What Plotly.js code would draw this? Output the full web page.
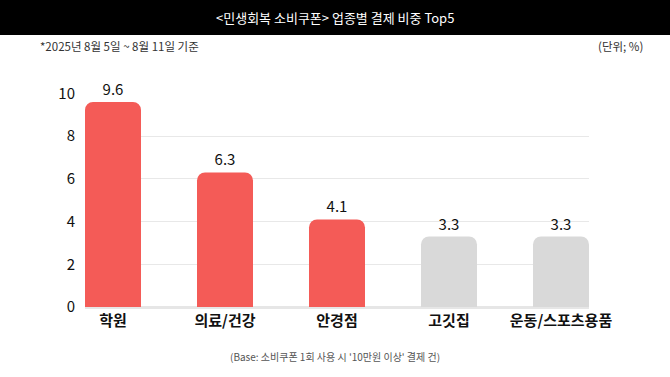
<!DOCTYPE html>
<html><head><meta charset="utf-8">
<script src="https://cdn.plot.ly/plotly-3.0.1.min.js"></script>
<style>html,body{margin:0;padding:0;background:#fff}#chart{width:670px;height:377px}</style>
</head><body><div id="chart"></div>
<script>
const categories = ["학원", "의료/건강", "안경점", "고깃집", "운동/스포츠용품"];
const shares = [9.6, 6.3, 4.1, 3.3, 3.3];
const barColors = ["#F45B57", "#F45B57", "#F45B57", "#D9D9D9", "#D9D9D9"];
const yTicks = [0, 2, 4, 6, 8, 10];

const font = "'Noto Sans CJK KR', 'Noto Sans', sans-serif";

const trace = {
  type: "bar",
  x: categories,
  y: shares,
  width: 0.5,
  marker: {color: barColors, cornerradius: 8},
  text: shares.map(v => v.toFixed(1)),
  textposition: "outside",
  cliponaxis: false,
  textfont: {family: font, size: 15, color: "#111"},
  hoverinfo: "none"
};

const layout = {
  width: 670, height: 377,
  margin: {l: 85, r: 81, t: 93, b: 70},
  paper_bgcolor: "#fff", plot_bgcolor: "#fff",
  showlegend: false,
  xaxis: {
    range: [-0.25, 4.25],
    tickfont: {family: font, size: 15, color: "#111", weight: "bold"},
    ticks: "", showgrid: false, showline: false, zeroline: false,
    ticklabelstandoff: 3
  },
  yaxis: {
    range: [0, 10.02],
    tickvals: yTicks,
    tickfont: {family: font, size: 15, color: "#111"},
    showgrid: true, gridcolor: "#E8E8E8", gridwidth: 1,
    zeroline: true, zerolinecolor: "#E6E6E6", zerolinewidth: 3,
    ticks: "", ticklabelstandoff: 9
  },
  shapes: [
    {type: "rect", xref: "paper", yref: "paper", x0: -1, x1: 2, y0: 1.3, y1: 2,
     fillcolor: "#000", line: {width: 0}, layer: "below"}
  ],
  annotations: [
    {text: "<민생회복 소비쿠폰> 업종별 결제 비중 Top5", xref: "paper", yref: "paper",
     x: 0.5, xanchor: "center", y: 1, yanchor: "top", showarrow: false,
     font: {family: font, size: 13, color: "#fff"}},
    {text: "*2025년 8월 5일 ~ 8월 11일 기준", xref: "paper", yref: "paper",
     x: 0, xanchor: "left", y: 1, yanchor: "top", showarrow: false,
     font: {family: font, size: 11.5, color: "#333"}},
    {text: "(단위; %)", xref: "paper", yref: "paper",
     x: 1, xanchor: "right", y: 1, yanchor: "top", showarrow: false,
     font: {family: font, size: 11.5, color: "#333"}},
    {text: "(Base: 소비쿠폰 1회 사용 시 '10만원 이상' 결제 건)", xref: "paper", yref: "paper",
     x: 0.5, xanchor: "center", y: 0, yanchor: "middle", showarrow: false,
     font: {family: font, size: 10, color: "#555"}}
  ]
};

Plotly.newPlot("chart", [trace], layout, {displayModeBar: false, staticPlot: true}).then(() => {
  const H = 377, W = 670, t = 93, b = 70, l = 85, r = 81;
  const ph = H - t - b, pw = W - l - r;
  const py = y => (H - b - y) / ph;
  const px = x => (x - l) / pw;
  Plotly.relayout("chart", {
    "shapes[0].x0": px(0), "shapes[0].x1": px(W), "shapes[0].y0": py(35), "shapes[0].y1": py(0),
    "annotations[0].x": px(335), "annotations[0].y": py(17.5), "annotations[0].yanchor": "middle",
    "annotations[1].x": px(38), "annotations[1].y": py(46), "annotations[1].yanchor": "middle",
    "annotations[2].x": px(645), "annotations[2].y": py(46), "annotations[2].yanchor": "middle",
    "annotations[3].x": px(335), "annotations[3].y": py(356)
  });
});
</script></body></html>
